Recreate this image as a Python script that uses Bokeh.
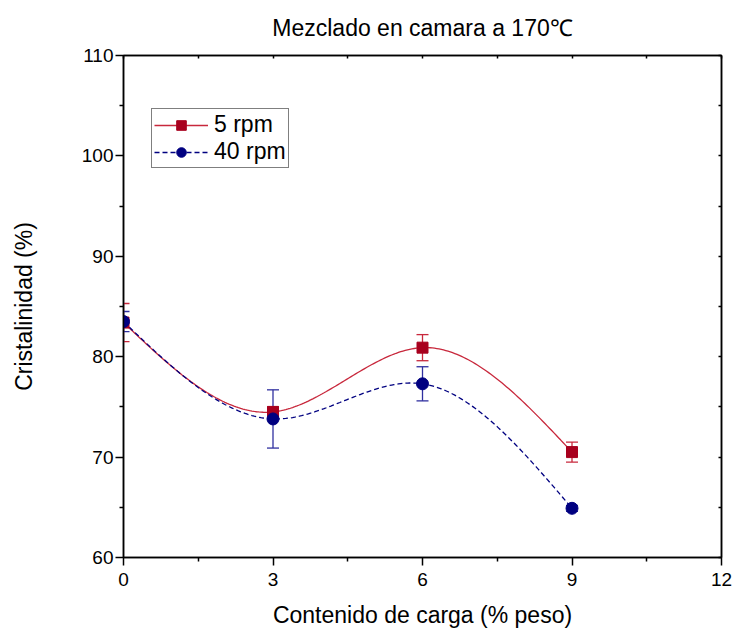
import numpy as np
from bokeh.plotting import figure
from bokeh.models import (ColumnDataSource, Whisker, TeeHead, LinearAxis, FixedTicker,
                          Legend, LegendItem, Title, CustomJSTickFormatter)
from bokeh.embed import file_html
from bokeh.resources import INLINE

# ---- data ----
carga = [0, 3, 6, 9]
rpm5 = [83.4, 74.5, 80.9, 70.5]
err5 = [1.9, 0.5, 1.3, 1.0]
rpm40 = [83.5, 73.8, 77.3, 64.9]
err40 = [1.0, 2.9, 1.7, 0.3]
x_ticks = [0, 3, 6, 9, 12]
x_minor = [1.5, 4.5, 7.5, 10.5]
y_ticks = [60, 70, 80, 90, 100, 110]
y_minor = [65, 75, 85, 95, 105]
title_text = "Mezclado en camara a 170\u2103"

RED = "#A8001E"
RED_L = "#C8283C"
BLUE = "#000080"
BLUE_L = "#3030A0"
FONT = "Liberation Sans"


def natural_spline(xs, ys, n=200):
    xs = np.asarray(xs, float)
    ys = np.asarray(ys, float)
    k = len(xs)
    h = np.diff(xs)
    A = np.zeros((k, k))
    b = np.zeros(k)
    A[0, 0] = A[-1, -1] = 1.0
    for i in range(1, k - 1):
        A[i, i - 1] = h[i - 1]
        A[i, i] = 2 * (h[i - 1] + h[i])
        A[i, i + 1] = h[i]
        b[i] = 3 * ((ys[i + 1] - ys[i]) / h[i] - (ys[i] - ys[i - 1]) / h[i - 1])
    c = np.linalg.solve(A, b)
    xx = np.linspace(xs[0], xs[-1], n)
    yy = np.empty_like(xx)
    for j, xv in enumerate(xx):
        i = min(np.searchsorted(xs, xv, side="right") - 1, k - 2)
        dx = xv - xs[i]
        bi = (ys[i + 1] - ys[i]) / h[i] - h[i] * (2 * c[i] + c[i + 1]) / 3
        di = (c[i + 1] - c[i]) / (3 * h[i])
        yy[j] = ys[i] + bi * dx + c[i] * dx ** 2 + di * dx ** 3
    return xx, yy


p = figure(width=732, height=631, x_range=(0, 12), y_range=(60, 110),
           output_backend="svg", toolbar_location=None,
           min_border_left=123, min_border_right=11, min_border_top=55, min_border_bottom=74,
           x_axis_label="Contenido de carga (% peso)", y_axis_label="Cristalinidad (%)")
p.background_fill_color = "white"
p.border_fill_color = "white"
p.grid.visible = False
p.outline_line_color = "black"
p.outline_line_width = 1.5

p.title = Title(text=title_text, align="center", vertical_align="top",
                text_font=FONT, text_font_size="23px", text_font_style="normal",
                text_color="black", standoff=25)

for ax in (p.xaxis[0], p.yaxis[0]):
    ax.axis_line_width = 1.5
    ax.major_tick_line_width = 1.5
    ax.minor_tick_line_width = 1.5
    ax.major_tick_out = 8
    ax.major_tick_in = 0
    ax.minor_tick_out = 4
    ax.minor_tick_in = 0
    ax.major_label_text_font = FONT
    ax.major_label_text_font_size = "19px"
    ax.major_label_text_color = "black"
    ax.major_label_text_line_height = 1.0
    ax.axis_label_text_font = FONT
    ax.axis_label_text_font_size = "23px"
    ax.axis_label_text_font_style = "normal"
    ax.axis_label_text_color = "black"
    ax.axis_label_text_line_height = 1.0

p.xaxis[0].ticker = FixedTicker(ticks=x_ticks, minor_ticks=x_minor)
p.yaxis[0].ticker = FixedTicker(ticks=y_ticks, minor_ticks=y_minor)
p.xaxis[0].major_label_standoff = 7
p.xaxis[0].axis_label_standoff = 13
p.yaxis[0].major_label_standoff = 2
p.yaxis[0].axis_label_standoff = 42

blank = CustomJSTickFormatter(code="return ''")
top = LinearAxis(ticker=FixedTicker(ticks=x_ticks, minor_ticks=x_minor),
                 formatter=blank, major_tick_in=3, major_tick_out=0, minor_tick_in=3,
                 minor_tick_out=0, axis_line_width=1.5, major_tick_line_width=1.5,
                 minor_tick_line_width=1.5, major_label_standoff=0,
                 major_label_text_font_size="1px")
right = LinearAxis(ticker=FixedTicker(ticks=y_ticks, minor_ticks=y_minor),
                   formatter=blank, major_tick_in=3, major_tick_out=0, minor_tick_in=3,
                   minor_tick_out=0, axis_line_width=1.5, major_tick_line_width=1.5,
                   minor_tick_line_width=1.5, major_label_standoff=0,
                   major_label_text_font_size="1px")
p.add_layout(right, "right")
p.add_layout(top, "above")

# curves
sx5, sy5 = natural_spline(carga, rpm5)
sx40, sy40 = natural_spline(carga, rpm40)
l5 = p.line(sx5, sy5, line_color=RED_L, line_width=1.3)
l40 = p.line(sx40, sy40, line_color=BLUE, line_width=1.3, line_dash="5 3")

# error bars
s5 = ColumnDataSource(dict(x=carga, y=rpm5,
                           lo=[a - b for a, b in zip(rpm5, err5)],
                           hi=[a + b for a, b in zip(rpm5, err5)]))
s40 = ColumnDataSource(dict(x=carga, y=rpm40,
                            lo=[a - b for a, b in zip(rpm40, err40)],
                            hi=[a + b for a, b in zip(rpm40, err40)]))
for src, col in ((s5, RED_L), (s40, BLUE_L)):
    w = Whisker(source=src, base="x", lower="lo", upper="hi", line_color=col, line_width=1.3,
                upper_head=TeeHead(size=12, line_color=col, line_width=1.3),
                lower_head=TeeHead(size=12, line_color=col, line_width=1.3))
    p.add_layout(w)

m5 = p.scatter("x", "y", source=s5, marker="square", size=11, fill_color=RED, line_color=RED)
m40 = p.scatter("x", "y", source=s40, marker="circle", size=12, fill_color=BLUE, line_color=BLUE)

legend = Legend(items=[LegendItem(label="5 rpm", renderers=[l5, m5]),
                       LegendItem(label="40 rpm", renderers=[l40, m40])],
                location=(28, 389), padding=2, spacing=0, label_height=24, glyph_height=24,
                glyph_width=54, label_standoff=6, margin=0,
                label_text_font=FONT, label_text_font_size="23px", label_text_color="black",
                label_text_line_height=1.0,
                border_line_color="black", border_line_width=1.2, background_fill_alpha=1)
p.add_layout(legend)

open("out.html", "w").write(file_html(p, INLINE))
